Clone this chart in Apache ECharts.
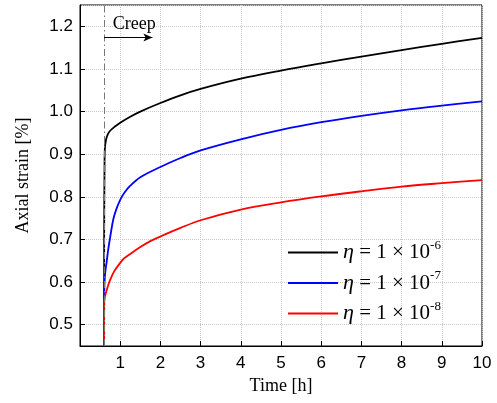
<!DOCTYPE html>
<html>
<head>
<meta charset="utf-8">
<script src="https://cdn.jsdelivr.net/npm/echarts@6/dist/echarts.min.js"></script>
<style>
  html, body { margin: 0; padding: 0; background: #fff; }
  #chart { width: 497px; height: 403px; }
</style>
</head>
<body>
<div id="chart"></div>
<script>
// values
var blackTime   = [0.6, 0.601, 0.61, 0.62, 0.65, 0.7, 0.75, 0.87, 1, 1.25, 1.5, 2, 2.5, 3, 4, 5, 6, 7, 8, 9, 10];
var blackStrain = [0.45, 0.70, 0.87, 0.915, 0.935, 0.948, 0.955, 0.965, 0.974, 0.988, 1.0, 1.02, 1.038, 1.053, 1.077, 1.096, 1.113, 1.129, 1.144, 1.159, 1.173];

var blueTime   = [0.6, 0.601, 0.61, 0.63, 0.66, 0.7, 0.75, 0.83, 0.9, 1, 1.1, 1.25, 1.5, 2, 2.5, 3, 4, 5, 6, 7, 8, 9, 10];
var blueStrain = [0.45, 0.56, 0.60, 0.625, 0.645, 0.675, 0.705, 0.748, 0.77, 0.793, 0.809, 0.826, 0.846, 0.870, 0.891, 0.909, 0.935, 0.957, 0.975, 0.99, 1.003, 1.014, 1.024];

var redTime   = [0.6, 0.601, 0.62, 0.7, 0.75, 0.85, 1, 1.1, 1.25, 1.5, 1.75, 2, 2.5, 3, 4, 5, 6, 7, 8, 9, 10];
var redStrain = [0.45, 0.55, 0.566, 0.592, 0.605, 0.625, 0.645, 0.656, 0.666, 0.682, 0.696, 0.707, 0.727, 0.745, 0.77, 0.787, 0.801, 0.813, 0.824, 0.832, 0.839];

var seriesNames = ['eta6', 'eta7', 'eta8'];
var etaExp = ['-6', '-7', '-8'];
var seriesColors = ['#000000', '#0000ff', '#ff0000'];

// creep start and arrow
var creepStart = 0.6;
var arrowEnd = 1.8;
var arrowLevel = 1.174;

function pairs(xs, ys) {
  var out = [];
  for (var i = 0; i < xs.length; i++) out.push([xs[i], ys[i]]);
  return out;
}

var chart = echarts.init(document.getElementById('chart'));

var serif = '"Liberation Serif", "Times New Roman", serif';
var sans = '"Liberation Sans", Arial, sans-serif';

function lineSeries(idx, data) {
  return {
    name: seriesNames[idx],
    type: 'line',
    data: data,
    symbol: 'none',
    showSymbol: false,
    smooth: 0.35,
    lineStyle: { color: seriesColors[idx], width: 1.8 },
    itemStyle: { color: seriesColors[idx] },
    z: 3
  };
}

var s0 = lineSeries(0, pairs(blackTime, blackStrain));
s0.markLine = {
  silent: true,
  symbol: 'none',
  animation: false,
  label: { show: false },
  lineStyle: { type: [7, 3, 1.5, 3], color: '#777', width: 1 },
  data: [{ xAxis: creepStart }]
};
var s1 = lineSeries(1, pairs(blueTime, blueStrain));
s1.markLine = {
  silent: true,
  symbol: ['none', 'arrow'],
  symbolSize: [6, 9],
  animation: false,
  lineStyle: { type: 'solid', color: '#000', width: 1 },
  label: {
    show: true,
    position: 'middle',
    formatter: 'Creep',
    color: '#000',
    fontFamily: serif,
    fontSize: 18,
    distance: 4,
    offset: [6, 0]
  },
  data: [[{ coord: [creepStart, arrowLevel] }, { coord: [arrowEnd, arrowLevel] }]]
};
var s2 = lineSeries(2, pairs(redTime, redStrain));

var option = {
  animation: false,
  backgroundColor: '#fff',
  grid: {
    left: 80, right: 15, top: 5, bottom: 57,
    show: true, borderColor: '#000', borderWidth: 1
  },
  legend: {
    data: seriesNames.map(function (n, i) {
      return { name: n, icon: 'rect', itemStyle: { color: seriesColors[i] } };
    }),
    orient: 'vertical',
    left: 283,
    top: 234,
    itemWidth: 50,
    itemHeight: 2,
    itemGap: 6,
    formatter: function (name) {
      var i = seriesNames.indexOf(name);
      return '{i|η}{t| = 1 × 10}{s|' + etaExp[i] + '}';
    },
    textStyle: {
      fontFamily: serif,
      fontSize: 21,
      color: '#000',
      rich: {
        i: { fontFamily: serif, fontSize: 22, fontStyle: 'italic', color: '#000' },
        t: { fontFamily: serif, fontSize: 21, color: '#000' },
        s: { fontFamily: serif, fontSize: 13, color: '#000', verticalAlign: 'top', padding: [0, 0, 14, 0] }
      }
    }
  },
  xAxis: {
    type: 'value',
    min: 0,
    max: 10,
    interval: 1,
    name: 'Time [h]',
    nameLocation: 'middle',
    nameGap: 31,
    nameTextStyle: { fontFamily: serif, fontSize: 18, color: '#000' },
    axisLine: { lineStyle: { color: '#000', width: 1 } },
    axisTick: { inside: true, length: 5, lineStyle: { color: '#000' } },
    axisLabel: {
      showMinLabel: false,
      margin: 9,
      fontFamily: sans, fontSize: 17, color: '#000'
    },
    splitLine: { show: true, lineStyle: { type: 'dotted', color: '#c8c8c8', width: 1 } }
  },
  yAxis: {
    type: 'value',
    min: 0.45,
    max: 1.25,
    splitNumber: 8,
    name: 'Axial strain [%]',
    nameLocation: 'middle',
    nameGap: 48,
    nameTextStyle: { fontFamily: serif, fontSize: 18, color: '#000' },
    axisLine: { show: true, lineStyle: { color: '#000', width: 1 } },
    axisTick: { show: true, inside: true, length: 5, lineStyle: { color: '#000' } },
    axisLabel: {
      showMinLabel: false,
      showMaxLabel: false,
      margin: 7,
      fontFamily: sans, fontSize: 17, color: '#000',
      formatter: function (v) { return v.toFixed(1); }
    },
    splitLine: { show: true, lineStyle: { type: 'dotted', color: '#c8c8c8', width: 1 } }
  },
  series: [s0, s1, s2]
};

chart.setOption(option);
</script>
</body>
</html>
